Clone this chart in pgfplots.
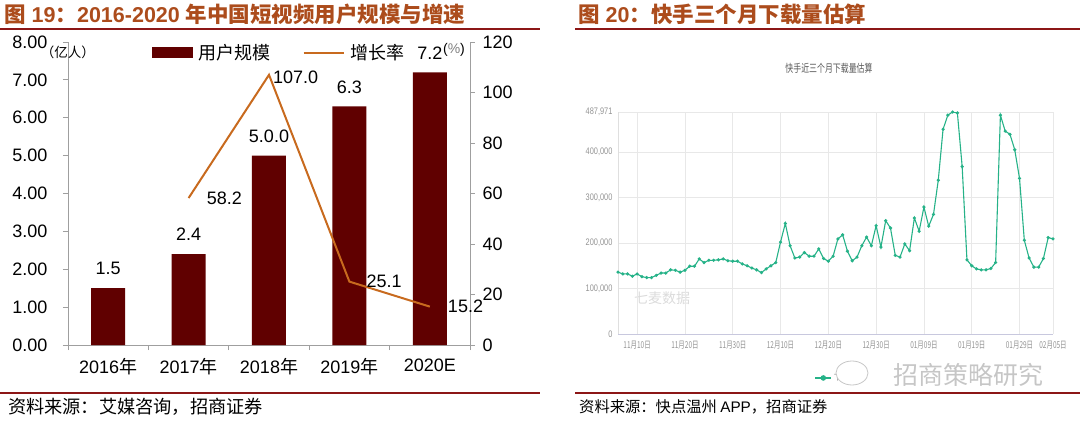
\documentclass[border=0pt]{standalone}
\usepackage{pgfplots}
\pgfplotsset{compat=1.18}
\usepackage{graphicx}
\usepackage{fontspec}
\setmainfont{Liberation Sans}
\newfontfamily\cjk{Noto Sans CJK SC}
\definecolor{barred}{RGB}{96,0,0}
\definecolor{growth}{RGB}{200,106,30}
\definecolor{rule}{RGB}{140,22,22}
\definecolor{ttl}{RGB}{172,76,28}
\definecolor{dl}{RGB}{38,178,136}
\definecolor{base}{RGB}{200,200,222}
\newcommand\fs[1]{\fontsize{#1}{#1}\selectfont}
\newcommand\rt[1]{\scalebox{0.68}[1]{\fs{9.5}\cjk #1}}
\newcommand\ry[1]{\scalebox{0.78}[1]{\fs{9.5}#1}}

\begin{document}
\begin{tikzpicture}[x=1pt,y=1pt]
\path[use as bounding box] (0,0) rectangle (1080,421);

% left panel: users and growth
\node[anchor=west, text=ttl, inner sep=0] at (4,407)
  {\fs{21.5}\bfseries{\cjk 图} 19{\cjk ：}2016-2020 {\cjk 年中国短视频用户规模与增速}};
\draw[rule, line width=1.6pt] (0,392) -- (540,392);
\draw[rule, line width=1.6pt] (0,28) -- (540,28);
\node[anchor=west, inner sep=0] at (8,14) {\fs{18.2}\cjk 资料来源：艾媒咨询，招商证券};

\begin{axis}[
  at={(68pt,76pt)}, anchor=south west, scale only axis,
  width=402pt, height=303pt, clip=false,
  xmin=-0.5, xmax=4.5, ymin=0, ymax=8,
  axis x line*=bottom, axis y line*=left,
  axis line style={draw=gray!75, line width=0.9pt},
  tick style={draw=gray!75, line width=0.9pt},
  tick align=outside, major tick length=5pt,
  /pgf/number format/assume math mode=true,
  xtick={-0.5,0.5,1.5,2.5,3.5,4.5},
  xticklabels={2016{\cjk 年},2017{\cjk 年},2018{\cjk 年},2019{\cjk 年},2020E,{}},
  xticklabel style={font=\fs{18}, xshift=40.2pt, yshift=-5pt},
  ytick={0,1,...,8},
  yticklabel style={font=\fs{18}, xshift=-12pt,
    /pgf/number format/.cd, fixed, fixed zerofill, precision=2},
]
\addplot[ybar, fill=barred, draw=none, bar width=34pt,
  nodes near coords, point meta=explicit symbolic,
  every node near coord/.append style={font=\fs{18}, inner sep=0pt, anchor=south, yshift=13pt, text=black}]
  coordinates {(0,1.5) [1.5] (1,2.4) [2.4] (2,5.0) [5.0.0] (3,6.3) [6.3] (4,7.2) [7.2]};
\end{axis}

\begin{axis}[
  at={(68pt,76pt)}, anchor=south west, scale only axis,
  width=402pt, height=303pt, clip=false,
  xmin=-0.5, xmax=4.5, ymin=0, ymax=120,
  axis x line=none, axis y line*=right,
  axis line style={draw=gray!75, line width=0.9pt},
  tick style={draw=gray!75, line width=0.9pt},
  tick align=outside, major tick length=5pt,
  /pgf/number format/assume math mode=true,
  ytick={0,20,...,120},
  yticklabel style={font=\fs{18}, xshift=4pt},
  legend columns=2,
  legend style={draw=none, fill=none, at={(0.209,1.0)}, anchor=north west,
    font=\fs{18}, inner sep=0pt,
    /tikz/every odd column/.append style={column sep=4pt},
    /tikz/every even column/.append style={column sep=30pt}},
]
\addlegendimage{legend image code/.code={\fill[barred] (0pt,-5pt) rectangle (40pt,5pt);}}
\addlegendentry{\cjk 用户规模}
\addplot[growth, line width=2pt,
  legend image code/.code={\draw[growth, line width=2pt] (0pt,0pt) -- (40pt,0pt);}]
  coordinates {(1,58.2) (2,107) (3,25.1) (4,15.2)};
\addlegendentry{\cjk 增长率}
\node[anchor=west, inner sep=0, font=\fs{18}, xshift=18pt] at (axis cs:1,58.2) {58.2};
\node[anchor=west, inner sep=0, font=\fs{18}, xshift=4pt, yshift=-2pt] at (axis cs:2,107) {107.0};
\node[anchor=west, inner sep=0, font=\fs{18}, xshift=17pt] at (axis cs:3,25.1) {25.1};
\node[anchor=west, inner sep=0, font=\fs{18}, xshift=18pt] at (axis cs:4,15.2) {15.2};
\end{axis}
\node[font=\fs{13.5}\cjk] at (68,369) {（亿人）};
\node[font=\fs{14}] at (454,371) {(\textcolor{gray}{\%})};

% right panel: download estimate
\node[anchor=west, text=ttl, inner sep=0] at (578,407)
  {\fs{21.5}\bfseries{\cjk 图} 20{\cjk ：快手三个月下载量估算}};
\draw[rule, line width=1.6pt] (575,392) -- (1080,392);
\draw[rule, line width=1.6pt] (575,28) -- (1080,28);
\node[anchor=west, inner sep=0] at (579,14) {\fs{15.3}\cjk 资料来源：快点温州 \rmfamily APP\cjk ，招商证券};
\node[text=gray!70!black] at (829,353) {\scalebox{0.72}[1]{\fs{11}\cjk 快手近三个月下载量估算}};
\node[text=gray!28, font=\fs{14}\cjk] at (662,123) {七麦数据};

\begin{axis}[
  at={(618pt,87pt)}, anchor=south west, scale only axis,
  width=435pt, height=222pt,
  xmin=0, xmax=91, ymin=0, ymax=487971,
  axis x line*=bottom, axis y line*=left,
  x axis line style={draw=base, line width=0.9pt},
  y axis line style={draw=gray!25, line width=0.6pt},
  grid=major, major grid style={draw=gray!18, line width=0.6pt},
  major tick length=0pt, scaled y ticks=false,
  xtick={4,14,24,34,44,54,64,74,84,91},
  xticklabels={\rt{11月10日},\rt{11月20日},\rt{11月30日},\rt{12月10日},\rt{12月20日},
    \rt{12月30日},\rt{01月09日},\rt{01月19日},\rt{01月29日},\rt{02月05日}},
  xticklabel style={text=gray!85, yshift=-3pt},
  ytick={0,100000,200000,300000,400000,487971},
  yticklabels={\ry{0},\ry{100,000},\ry{200,000},\ry{300,000},\ry{400,000},\ry{487,971}},
  yticklabel style={text=gray!85, xshift=-2pt},
  legend style={draw=none, fill=none, at={(0.445,-0.198)}, anchor=west,
    font=\fs{8}\cjk, text=gray},
]
\addplot[dl, line width=1.1pt, mark=*, mark size=1pt,
  legend image code/.code={\draw[dl, line width=1.1pt] (0pt,0pt) -- (16pt,0pt); \fill[dl] (8pt,0pt) circle (2.2pt);}]
  table {
x y
0 136000
1 132000
2 132000
3 127000
4 132000
5 126000
6 124000
7 124000
8 129000
9 134000
10 134000
11 141000
12 140000
13 136000
14 140000
15 149000
16 149000
17 165000
18 157000
19 162000
20 162000
21 163000
22 165000
23 161000
24 160000
25 160000
26 154000
27 150000
28 145000
29 141000
30 135000
31 143000
32 150000
33 157000
34 202000
35 243000
36 194000
37 167000
38 169000
39 179000
40 171000
41 171000
42 187000
43 166000
44 160000
45 171000
46 209000
47 218000
48 182000
49 161000
50 169000
51 194000
52 213000
53 194000
54 238000
55 191000
56 249000
57 233000
58 173000
59 169000
60 198000
61 183000
62 255000
63 226000
64 279000
65 237000
66 263000
67 338000
68 450000
69 481000
70 487971
71 486000
72 368000
73 163000
74 150000
75 143000
76 141000
77 141000
78 144000
79 157000
80 481000
81 446000
82 439000
83 405000
84 342000
85 206000
86 167000
87 147000
88 147000
89 166000
90 212000
91 209000
};
\addlegendentry{下载量}
\end{axis}
\draw[gray!45, fill=white, line width=0.8pt] (852,48) ellipse (16pt and 12pt);
\node[text=gray!45, font=\fs{25}\cjk] at (968,46) {招商策略研究};
\end{tikzpicture}
\end{document}
